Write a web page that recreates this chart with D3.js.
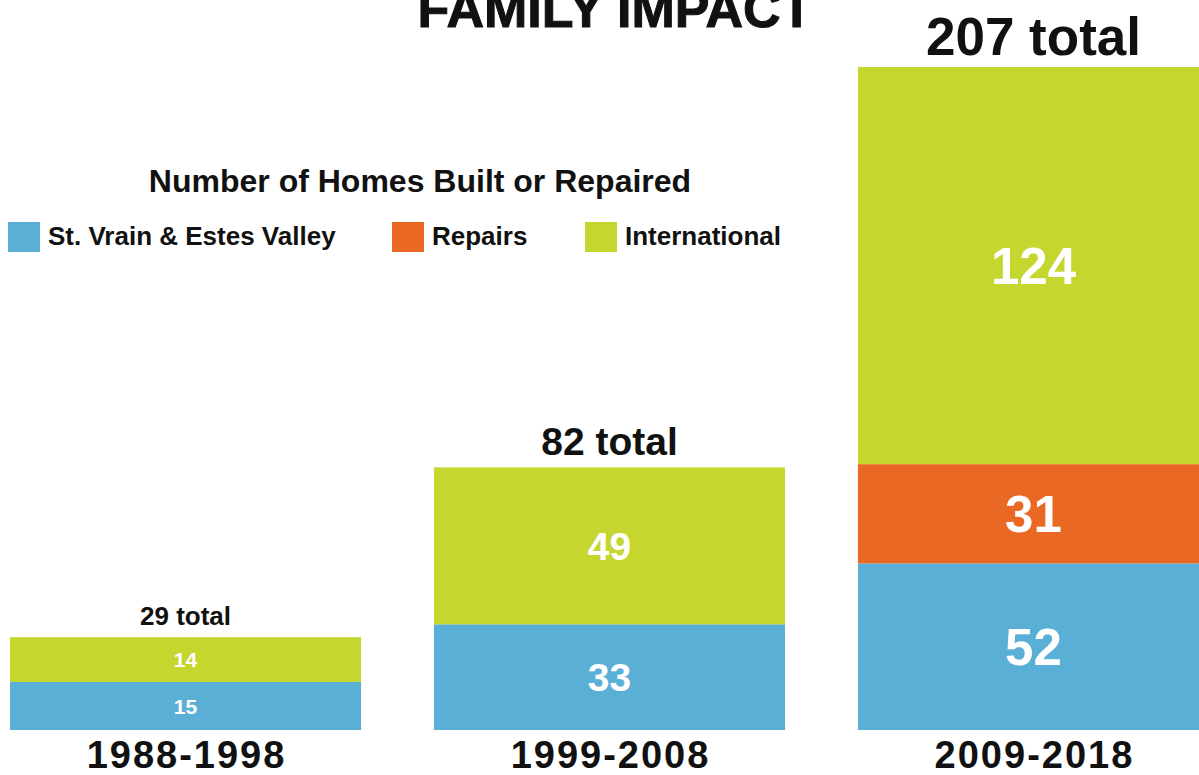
<!DOCTYPE html>
<html>
<head>
<meta charset="utf-8">
<script src="https://cdn.jsdelivr.net/npm/d3@7"></script>
<style>
  body { margin: 0; background: #fff; }
  text { font-family: "Liberation Sans", Arial, sans-serif; font-weight: bold; }
</style>
</head>
<body>
<div id="chart"></div>
<script>
// data
var periods = ["1988-1998", "1999-2008", "2009-2018"];
var seriesNames = ["St. Vrain & Estes Valley", "Repairs", "International"];
var stVrain = [15, 33, 52];
var repairs = [0, 0, 31];
var international = [14, 49, 124];

var colors = ["#5aafd7", "#e96824", "#c5d62f"];
// label sizes grow with each bar
var totalSizes = [26, 39, 53];
var segSizes = [21, 39, 51];

var width = 1199, height = 775;

var svg = d3.select("#chart")
    .append("svg")
    .attr("width", width)
    .attr("height", height);

var rows = periods.map(function(p, i) {
    return { period: p, st: stVrain[i], rep: repairs[i], intl: international[i] };
});
var keys = ["st", "rep", "intl"];
var stacked = d3.stack().keys(keys)(rows);
var totals = rows.map(d => d.st + d.rep + d.intl);

var x = d3.scaleBand()
    .domain(periods)
    .range([10, 1209])
    .paddingInner(0.172)
    .paddingOuter(0);

var y = d3.scaleLinear()
    .domain([0, d3.max(totals)])
    .range([730, 67]);

// title (cut off at the top, as in the original)
svg.append("text")
    .attr("x", 615)
    .attr("y", 27)
    .attr("text-anchor", "middle")
    .style("font-size", "52px")
    .style("stroke", "#111")
    .style("stroke-width", "1px")
    .style("fill", "#111")
    .text("FAMILY IMPACT");

svg.append("text")
    .attr("x", 420)
    .attr("y", 192)
    .attr("text-anchor", "middle")
    .style("font-size", "32px")
    .style("fill", "#111")
    .text("Number of Homes Built or Repaired");

// legend
var legendX = [8, 392, 585];
var legend = svg.selectAll(".legend")
    .data(seriesNames)
    .enter()
    .append("g")
    .attr("class", "legend")
    .attr("transform", (d, i) => "translate(" + legendX[i] + ",222)");

legend.append("rect")
    .attr("width", 32)
    .attr("height", 30)
    .style("fill", (d, i) => colors[i]);

legend.append("text")
    .attr("x", 40)
    .attr("y", 23)
    .style("font-size", "26px")
    .style("fill", "#111")
    .text(d => d);

// stacked bars
var layers = svg.selectAll(".layer")
    .data(stacked)
    .enter()
    .append("g")
    .attr("class", "layer")
    .style("fill", (d, i) => colors[i]);

layers.selectAll("rect")
    .data(d => d.filter(s => s[1] - s[0] > 0))
    .enter()
    .append("rect")
    .attr("x", d => x(d.data.period))
    .attr("y", d => y(d[1]))
    .attr("width", x.bandwidth())
    .attr("height", d => y(d[0]) - y(d[1]));

layers.selectAll("text")
    .data(d => d.filter(s => s[1] - s[0] > 0))
    .enter()
    .append("text")
    .attr("x", d => x(d.data.period) + x.bandwidth() / 2)
    .attr("y", d => (y(d[0]) + y(d[1])) / 2)
    .attr("dy", "0.36em")
    .attr("text-anchor", "middle")
    .style("fill", "#fff")
    .style("font-size", d => segSizes[periods.indexOf(d.data.period)] + "px")
    .text(d => d[1] - d[0]);

// totals above bars
svg.selectAll(".total")
    .data(periods)
    .enter()
    .append("text")
    .attr("class", "total")
    .attr("x", d => x(d) + x.bandwidth() / 2)
    .attr("y", (d, i) => y(totals[i]) - 12)
    .attr("text-anchor", "middle")
    .style("font-size", (d, i) => totalSizes[i] + "px")
    .style("fill", "#111")
    .text((d, i) => totals[i] + " total");

// period labels under bars
svg.selectAll(".period")
    .data(periods)
    .enter()
    .append("text")
    .attr("class", "period")
    .attr("x", d => x(d) + x.bandwidth() / 2 + 1)
    .attr("y", 768)
    .attr("text-anchor", "middle")
    .style("font-size", "38px")
    .style("letter-spacing", "2px")
    .style("fill", "#111")
    .text(d => d);
</script>
</body>
</html>
